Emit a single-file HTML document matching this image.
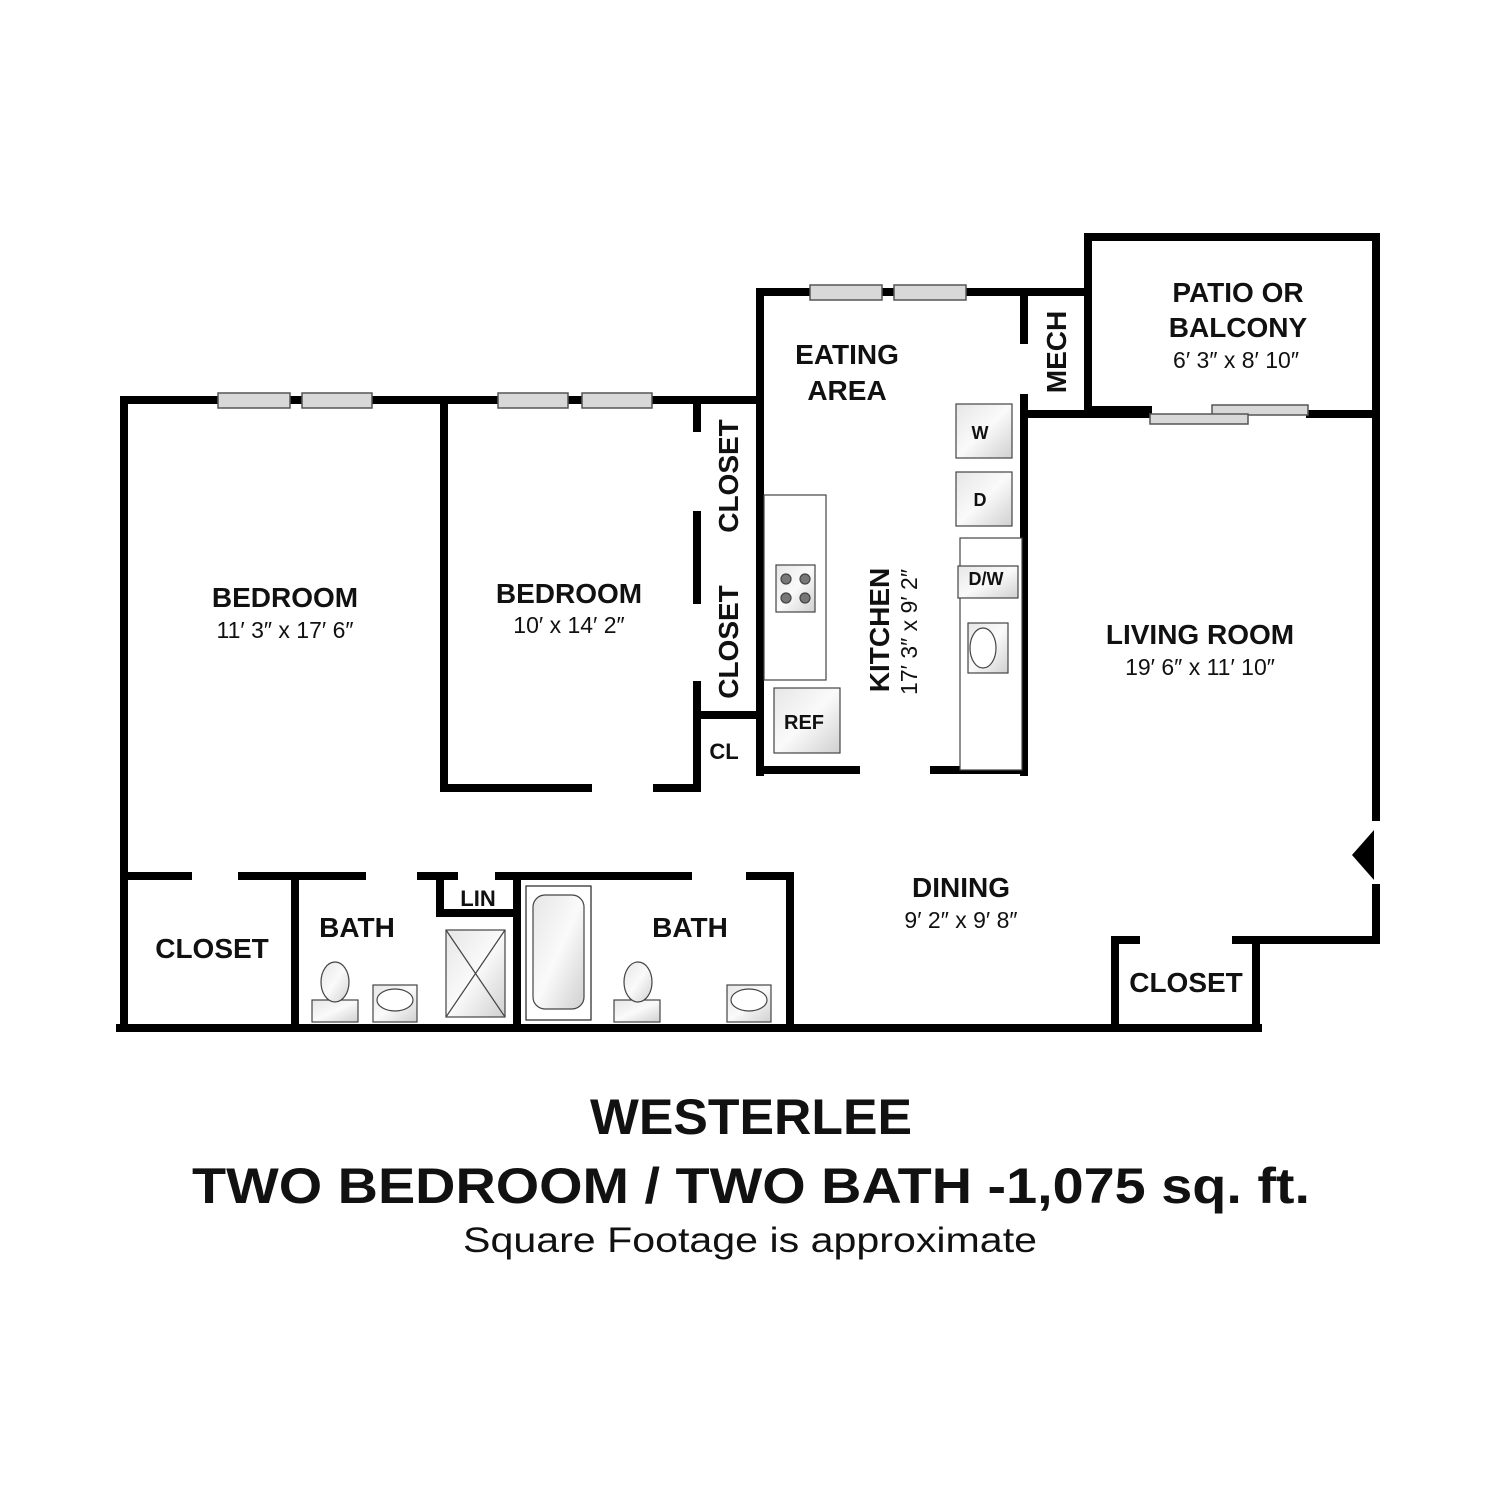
<!DOCTYPE html>
<html><head><style>
body{margin:0;background:#fff;}
svg{display:block}
text{font-family:"Liberation Sans",Arial,sans-serif;fill:#111}
.b{font-weight:bold;font-size:28px}
.d{font-size:23px}
</style></head><body>
<svg width="1500" height="1500" viewBox="0 0 1500 1500">
<defs>
<linearGradient id="g" x1="0" y1="0" x2="1" y2="1"><stop offset="0" stop-color="#e6e6e6"/><stop offset="0.5" stop-color="#fafafa"/><stop offset="1" stop-color="#d0d0d0"/></linearGradient>
</defs>
<g stroke="#000" stroke-width="8" fill="none" stroke-linecap="square">
<polyline points="124,1028 124,400 760,400"/>
<line x1="120" y1="1028" x2="1258" y2="1028"/>
<polyline points="444,400 444,788 588,788"/>
<polyline points="657,788 697,788 697,685"/>
<line x1="697" y1="400" x2="697" y2="428"/>
<line x1="697" y1="515" x2="697" y2="600"/>
<line x1="697" y1="715" x2="758" y2="715"/>
<polyline points="760,772 760,292 1088,292"/>
<line x1="1024" y1="292" x2="1024" y2="340"/>
<line x1="1024" y1="398" x2="1024" y2="772"/>
<line x1="760" y1="770" x2="856" y2="770"/>
<line x1="934" y1="770" x2="1024" y2="770"/>
<polyline points="1088,410 1088,237 1376,237 1376,817"/>
<line x1="1088" y1="410" x2="1148" y2="410"/>
<line x1="1024" y1="414" x2="1148" y2="414"/>
<line x1="1310" y1="414" x2="1376" y2="414"/>
<polyline points="1376,888 1376,940 1256,940 1256,1028"/>
<polyline points="1136,940 1115,940 1115,1026"/>
<line x1="1236" y1="940" x2="1256" y2="940"/>
<line x1="130" y1="876" x2="188" y2="876"/>
<line x1="242" y1="876" x2="362" y2="876"/>
<line x1="421" y1="876" x2="454" y2="876"/>
<line x1="499" y1="876" x2="688" y2="876"/>
<polyline points="750,876 790,876 790,1028"/>
<line x1="295" y1="876" x2="295" y2="1028"/>
<polyline points="440,876 440,913 515,913"/>
<line x1="517" y1="876" x2="517" y2="1028"/>
</g>
<polygon points="1374,830 1374,880 1352,855" fill="#000"/>
<g fill="#d8d8d8" stroke="#555" stroke-width="1.5">
<rect x="218" y="393" width="72" height="15"/><rect x="302" y="393" width="70" height="15"/>
<rect x="498" y="393" width="70" height="15"/><rect x="582" y="393" width="70" height="15"/>
<rect x="810" y="285" width="72" height="15"/><rect x="894" y="285" width="72" height="15"/>
<rect x="1212" y="405" width="96" height="10"/><rect x="1150" y="414" width="98" height="10"/>
</g>
<g stroke="#444" stroke-width="1.2">
<rect x="764" y="495" width="62" height="185" fill="#fff"/>
<rect x="776" y="565" width="39" height="47" fill="url(#g)"/>
<circle cx="786" cy="579" r="5" fill="#777"/><circle cx="805" cy="579" r="5" fill="#777"/>
<circle cx="786" cy="598" r="5" fill="#777"/><circle cx="805" cy="598" r="5" fill="#777"/>
<rect x="774" y="688" width="66" height="65" fill="url(#g)"/>
<rect x="956" y="404" width="56" height="54" fill="url(#g)"/>
<rect x="956" y="472" width="56" height="54" fill="url(#g)"/>
<rect x="960" y="538" width="62" height="232" fill="#fff"/>
<rect x="958" y="566" width="60" height="32" fill="url(#g)"/>
<rect x="968" y="623" width="40" height="50" fill="url(#g)"/>
<ellipse cx="983" cy="648" rx="13" ry="20" fill="#fff"/>
<rect x="446" y="930" width="59" height="87" fill="url(#g)"/>
<line x1="446" y1="930" x2="505" y2="1017"/><line x1="505" y1="930" x2="446" y2="1017"/>
<rect x="526" y="886" width="65" height="134" fill="#fff" stroke="#222"/>
<rect x="533" y="895" width="51" height="114" rx="12" fill="url(#g)"/>
<rect x="312" y="1000" width="46" height="22" fill="url(#g)"/>
<ellipse cx="335" cy="982" rx="14" ry="20" fill="url(#g)"/>
<rect x="614" y="1000" width="46" height="22" fill="url(#g)"/>
<ellipse cx="638" cy="982" rx="14" ry="20" fill="url(#g)"/>
<rect x="373" y="985" width="44" height="37" fill="url(#g)"/>
<ellipse cx="395" cy="1000" rx="18" ry="11" fill="#fff"/>
<rect x="727" y="985" width="44" height="37" fill="url(#g)"/>
<ellipse cx="749" cy="1000" rx="18" ry="11" fill="#fff"/>
</g>
<g text-anchor="middle">
<text class="b" x="285" y="607">BEDROOM</text><text class="d" x="285" y="638">11′ 3″ x 17′ 6″</text>
<text class="b" x="569" y="603">BEDROOM</text><text class="d" x="569" y="633">10′ x 14′ 2″</text>
<text class="b" x="847" y="364">EATING</text><text class="b" x="847" y="400">AREA</text>
<text class="b" x="1238" y="302">PATIO OR</text><text class="b" x="1238" y="337">BALCONY</text><text class="d" x="1236" y="368">6′ 3″ x 8′ 10″</text>
<text class="b" x="1200" y="644">LIVING ROOM</text><text class="d" x="1200" y="675">19′ 6″ x 11′ 10″</text>
<text class="b" x="961" y="897">DINING</text><text class="d" x="961" y="928">9′ 2″ x 9′ 8″</text>
<text class="b" x="212" y="958">CLOSET</text>
<text class="b" x="357" y="937">BATH</text>
<text class="b" x="690" y="937">BATH</text>
<text class="b" x="1186" y="992">CLOSET</text>
<text style="font-weight:bold;font-size:22px" x="478" y="906">LIN</text>
<text style="font-weight:bold;font-size:22px" x="724" y="759">CL</text>
<text style="font-weight:bold;font-size:20px" x="804" y="729">REF</text>
<text style="font-weight:bold;font-size:18px" x="980" y="439">W</text>
<text style="font-weight:bold;font-size:18px" x="980" y="506">D</text>
<text style="font-weight:bold;font-size:18px" x="986" y="585">D/W</text>
<text class="b" transform="translate(738,476) rotate(-90)">CLOSET</text>
<text class="b" transform="translate(738,642) rotate(-90)">CLOSET</text>
<text class="b" transform="translate(1066,352) rotate(-90)">MECH</text>
<text class="b" transform="translate(889,630) rotate(-90)">KITCHEN</text>
<text class="d" transform="translate(917,632) rotate(-90)">17′ 3″ x 9′ 2″</text>
<text style="font-weight:bold;font-size:50px" x="751" y="1134" textLength="322" lengthAdjust="spacingAndGlyphs">WESTERLEE</text>
<text style="font-weight:bold;font-size:50px" x="751" y="1203" textLength="1118" lengthAdjust="spacingAndGlyphs">TWO BEDROOM / TWO BATH -1,075 sq. ft.</text>
<text style="font-size:35px" x="750" y="1252" textLength="574" lengthAdjust="spacingAndGlyphs">Square Footage is approximate</text>
</g>
</svg>
</body></html>
